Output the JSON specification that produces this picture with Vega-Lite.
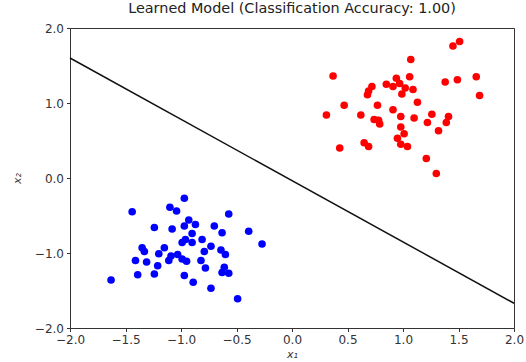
{
  "$schema": "https://vega.github.io/schema/vega-lite/v6.json",
  "width": 444,
  "height": 300,
  "autosize": {"type": "none"},
  "padding": {"left": 70, "top": 28, "right": 12, "bottom": 34},
  "background": "white",
  "title": {"text": "Learned Model (Classification Accuracy: 1.00)", "fontSize": 14.4, "fontWeight": "normal", "font": "DejaVu Sans", "color": "#222222", "offset": 6},
  "config": {
    "view": {"stroke": "#333333", "strokeWidth": 1},
    "axis": {"grid": false, "domain": false, "labelFlush": false, "tickColor": "#333333", "tickSize": 3.5, "labelPadding": 3, "labelFont": "DejaVu Sans", "labelFontSize": 12, "labelColor": "#333333", "titleFont": "DejaVu Sans", "titleFontSize": 11, "titleFontStyle": "italic", "titleFontWeight": "normal", "titleColor": "#333333"}
  },
  "datasets": {
    "points": [
      {"x1": -0.97, "x2": -0.27, "cls": "blue"},
      {"x1": -1.44, "x2": -0.45, "cls": "blue"},
      {"x1": -1.10, "x2": -0.39, "cls": "blue"},
      {"x1": -1.04, "x2": -0.44, "cls": "blue"},
      {"x1": -0.57, "x2": -0.48, "cls": "blue"},
      {"x1": -1.24, "x2": -0.66, "cls": "blue"},
      {"x1": -1.08, "x2": -0.68, "cls": "blue"},
      {"x1": -0.93, "x2": -0.56, "cls": "blue"},
      {"x1": -0.97, "x2": -0.64, "cls": "blue"},
      {"x1": -0.87, "x2": -0.62, "cls": "blue"},
      {"x1": -0.70, "x2": -0.64, "cls": "blue"},
      {"x1": -0.63, "x2": -0.73, "cls": "blue"},
      {"x1": -0.39, "x2": -0.71, "cls": "blue"},
      {"x1": -0.27, "x2": -0.88, "cls": "blue"},
      {"x1": -0.90, "x2": -0.74, "cls": "blue"},
      {"x1": -0.96, "x2": -0.82, "cls": "blue"},
      {"x1": -0.99, "x2": -0.86, "cls": "blue"},
      {"x1": -0.90, "x2": -0.86, "cls": "blue"},
      {"x1": -0.81, "x2": -0.82, "cls": "blue"},
      {"x1": -0.73, "x2": -0.91, "cls": "blue"},
      {"x1": -0.79, "x2": -0.98, "cls": "blue"},
      {"x1": -0.64, "x2": -0.96, "cls": "blue"},
      {"x1": -0.60, "x2": -1.02, "cls": "blue"},
      {"x1": -1.35, "x2": -0.93, "cls": "blue"},
      {"x1": -1.33, "x2": -0.98, "cls": "blue"},
      {"x1": -1.15, "x2": -0.93, "cls": "blue"},
      {"x1": -1.20, "x2": -1.01, "cls": "blue"},
      {"x1": -1.09, "x2": -1.04, "cls": "blue"},
      {"x1": -1.03, "x2": -1.02, "cls": "blue"},
      {"x1": -0.99, "x2": -1.08, "cls": "blue"},
      {"x1": -0.95, "x2": -1.11, "cls": "blue"},
      {"x1": -1.11, "x2": -1.10, "cls": "blue"},
      {"x1": -1.41, "x2": -1.10, "cls": "blue"},
      {"x1": -1.31, "x2": -1.12, "cls": "blue"},
      {"x1": -1.21, "x2": -1.17, "cls": "blue"},
      {"x1": -0.82, "x2": -1.10, "cls": "blue"},
      {"x1": -0.78, "x2": -1.20, "cls": "blue"},
      {"x1": -0.61, "x2": -1.19, "cls": "blue"},
      {"x1": -0.63, "x2": -1.26, "cls": "blue"},
      {"x1": -0.57, "x2": -1.27, "cls": "blue"},
      {"x1": -1.39, "x2": -1.29, "cls": "blue"},
      {"x1": -1.24, "x2": -1.28, "cls": "blue"},
      {"x1": -0.97, "x2": -1.30, "cls": "blue"},
      {"x1": -0.89, "x2": -1.39, "cls": "blue"},
      {"x1": -1.63, "x2": -1.36, "cls": "blue"},
      {"x1": -0.73, "x2": -1.47, "cls": "blue"},
      {"x1": -0.49, "x2": -1.61, "cls": "blue"},
      {"x1": 1.51, "x2": 1.82, "cls": "red"},
      {"x1": 1.45, "x2": 1.76, "cls": "red"},
      {"x1": 1.07, "x2": 1.58, "cls": "red"},
      {"x1": 0.37, "x2": 1.36, "cls": "red"},
      {"x1": 1.66, "x2": 1.35, "cls": "red"},
      {"x1": 1.38, "x2": 1.28, "cls": "red"},
      {"x1": 1.49, "x2": 1.31, "cls": "red"},
      {"x1": 1.69, "x2": 1.10, "cls": "red"},
      {"x1": 0.94, "x2": 1.33, "cls": "red"},
      {"x1": 1.06, "x2": 1.35, "cls": "red"},
      {"x1": 0.85, "x2": 1.25, "cls": "red"},
      {"x1": 0.91, "x2": 1.22, "cls": "red"},
      {"x1": 0.97, "x2": 1.26, "cls": "red"},
      {"x1": 1.02, "x2": 1.20, "cls": "red"},
      {"x1": 1.09, "x2": 1.18, "cls": "red"},
      {"x1": 0.99, "x2": 1.12, "cls": "red"},
      {"x1": 0.72, "x2": 1.22, "cls": "red"},
      {"x1": 0.69, "x2": 1.16, "cls": "red"},
      {"x1": 0.68, "x2": 1.11, "cls": "red"},
      {"x1": 1.13, "x2": 1.01, "cls": "red"},
      {"x1": 0.47, "x2": 0.97, "cls": "red"},
      {"x1": 0.77, "x2": 0.97, "cls": "red"},
      {"x1": 0.31, "x2": 0.84, "cls": "red"},
      {"x1": 0.62, "x2": 0.84, "cls": "red"},
      {"x1": 0.91, "x2": 0.91, "cls": "red"},
      {"x1": 0.98, "x2": 0.82, "cls": "red"},
      {"x1": 1.10, "x2": 0.80, "cls": "red"},
      {"x1": 0.74, "x2": 0.78, "cls": "red"},
      {"x1": 0.79, "x2": 0.72, "cls": "red"},
      {"x1": 0.78, "x2": 0.77, "cls": "red"},
      {"x1": 1.26, "x2": 0.85, "cls": "red"},
      {"x1": 1.22, "x2": 0.74, "cls": "red"},
      {"x1": 1.41, "x2": 0.82, "cls": "red"},
      {"x1": 1.39, "x2": 0.74, "cls": "red"},
      {"x1": 1.32, "x2": 0.63, "cls": "red"},
      {"x1": 0.98, "x2": 0.68, "cls": "red"},
      {"x1": 1.01, "x2": 0.59, "cls": "red"},
      {"x1": 0.95, "x2": 0.53, "cls": "red"},
      {"x1": 0.98, "x2": 0.45, "cls": "red"},
      {"x1": 1.04, "x2": 0.42, "cls": "red"},
      {"x1": 0.43, "x2": 0.40, "cls": "red"},
      {"x1": 0.65, "x2": 0.47, "cls": "red"},
      {"x1": 0.69, "x2": 0.42, "cls": "red"},
      {"x1": 1.21, "x2": 0.26, "cls": "red"},
      {"x1": 1.30, "x2": 0.06, "cls": "red"}
    ],
    "boundary": [
      {"x1": -2.0, "x2": 1.6},
      {"x1": 2.0, "x2": -1.67}
    ]
  },
  "layer": [
    {
      "data": {"name": "points"},
      "mark": {"type": "circle", "opacity": 1, "size": 58},
      "encoding": {
        "x": {"field": "x1", "type": "quantitative", "scale": {"domain": [-2, 2], "nice": false, "zero": false}, "axis": {"title": "x₁", "values": [-2, -1.5, -1, -0.5, 0, 0.5, 1, 1.5, 2], "format": ".1f", "titlePadding": 3}},
        "y": {"field": "x2", "type": "quantitative", "scale": {"domain": [-2, 2], "nice": false, "zero": false}, "axis": {"title": "x₂", "values": [-2, -1.5, -1, -0.5, 0, 0.5, 1, 1.5, 2], "format": ".1f", "titlePadding": 12}},
        "color": {"field": "cls", "type": "nominal", "scale": {"domain": ["blue", "red"], "range": ["#0000ff", "#ff0000"]}, "legend": null}
      }
    },
    {
      "data": {"name": "boundary"},
      "mark": {"type": "line", "color": "#111111", "strokeWidth": 1.5},
      "encoding": {
        "x": {"field": "x1", "type": "quantitative"},
        "y": {"field": "x2", "type": "quantitative"}
      }
    }
  ]
}
